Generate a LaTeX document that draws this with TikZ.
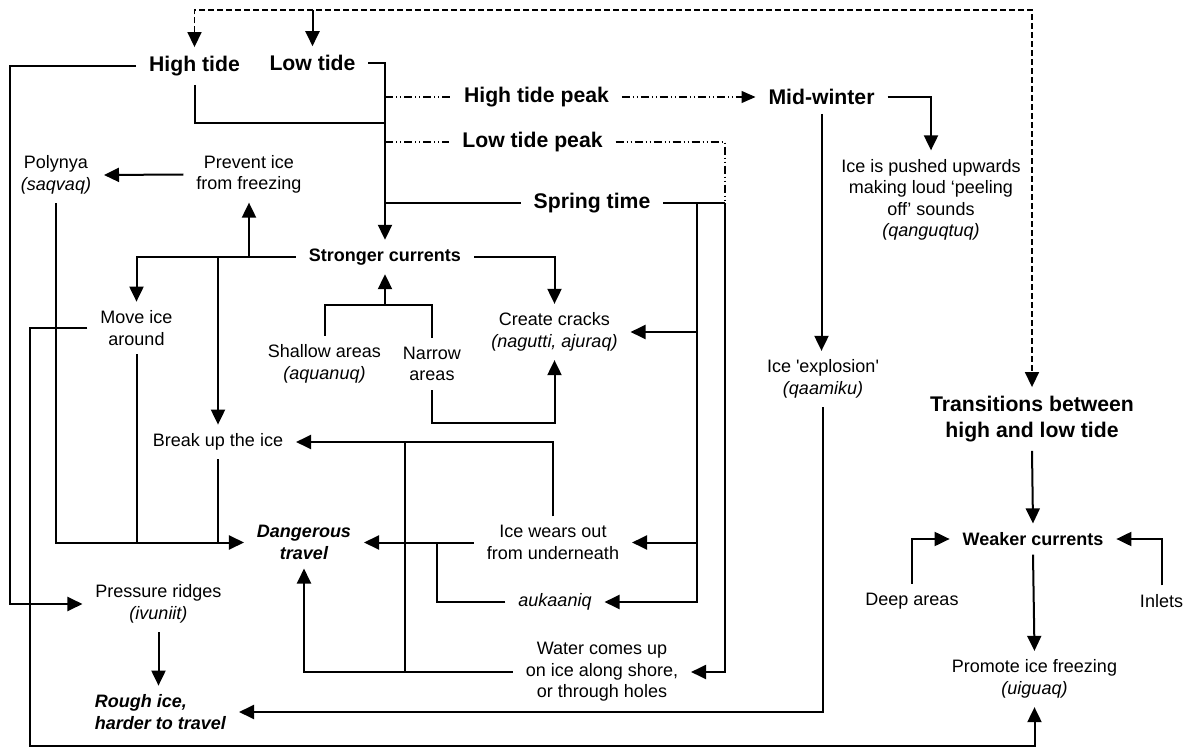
\documentclass[tikz,border=0pt]{standalone}
\usepackage{fontspec}
\setmainfont{Liberation Sans}
\usetikzlibrary{arrows.meta,calc}

\tikzset{
  every node/.style={inner sep=0pt, outer xsep=6.5pt, outer ysep=4.5pt, align=center},
  txt/.style={font=\fontsize{9}{10.75}\selectfont},
  boldtxt/.style={font=\fontsize{9}{10.75}\selectfont\bfseries},
  boldit/.style={font=\fontsize{9}{10.75}\selectfont\bfseries\itshape},
  bigtxt/.style={font=\fontsize{10.6}{13}\selectfont\bfseries},
  wire/.style={line width=1pt},
  link/.style={wire, -{Triangle[length=7.5pt,width=7pt]}},
  tidedash/.style={line width=0.6pt, dash pattern=on 4pt off 1.5pt on 0.5pt off 1.5pt on 0.5pt off 1.5pt},
  transdash/.style={line width=0.8pt, dash pattern=on 3pt off 1.5pt},
}

\begin{document}
\begin{tikzpicture}[x=0.5pt,y=-0.5pt]
    \useasboundingbox (0,0) rectangle (1190,749);

    \node[bigtxt] (hitide) at (194.5,66) {High tide};
    \node[bigtxt] (lotide) at (312.5,63) {Low tide};
    \node[bigtxt] (hipeak) at (536.5,97) {High tide peak};
    \node[bigtxt] (lopeak) at (532.5,142) {Low tide peak};
    \node[bigtxt] (midwin) at (821.5,97) {Mid-winter};
    \node[bigtxt] (spring) at (592,203) {Spring time};

    \node[txt] (polynya) at (56,175) {Polynya\\\textit{(saqvaq)}};
    \node[txt] (prevent) at (249,174.5) {Prevent ice\\from freezing};
    \node[boldtxt] (strong) at (385,257) {Stronger currents};
    \node[txt] (move) at (136.5,328) {Move ice\\around};
    \node[txt] (shallow) at (324.5,364) {Shallow areas\\\textit{(aquanuq)}};
    \node[txt] (narrow) at (432,364) {Narrow\\areas};
    \node[txt] (cracks) at (554.5,332) {Create cracks\\\textit{(nagutti, ajuraq)}};
    \node[txt] (breakup) at (218,442) {Break up the ice};
    \node[boldit] (danger) at (304,542.5) {Dangerous\\travel};
    \node[txt] (wears) at (553,542.5) {Ice wears out\\from underneath};
    \node[txt] (aukaaniq) at (555,602) {\textit{aukaaniq}};
    \node[txt] (water) at (602,672) {Water comes up\\on ice along shore,\\or through holes};
    \node[txt] (ridges) at (158.5,604) {Pressure ridges\\\textit{(ivuniit)}};
    \node[boldit, align=left] (rough) at (160.5,712) {Rough ice,\\harder to travel};

    \node[txt] (pushed) at (931,200) {Ice is pushed upwards\\making loud ‘peeling\\off’ sounds\\\textit{(qanguqtuq)}};
    \node[txt] (explosion) at (823,379) {Ice \textquotesingle explosion\textquotesingle\\\textit{(qaamiku)}};
    \node[bigtxt] (trans) at (1032,419) {Transitions between\\high and low tide};
    \node[boldtxt] (weaker) at (1033,539) {Weaker currents};
    \node[txt] (deep) at (912,601) {Deep areas};
    \node[txt] (inlets) at (1161.5,601) {Inlets};
    \node[txt] (promote) at (1034.5,679) {Promote ice freezing\\\textit{(uiguaq)}};

    \coordinate (tideTop) at (0,10);
    \coordinate (leftRail) at (10,0);
    \coordinate (hiJoin) at (385,123);
    \coordinate (springIn) at (697,203);
    \coordinate (springOut) at (725,203);
    \coordinate (areaJoin) at (385,305);
    \coordinate (narrowLow) at (0,423);
    \coordinate (aukJoin) at (437,0);
    \coordinate (waterUp) at (405,0);
    \coordinate (bottomRail) at (30,745.5);

    \draw[transdash, {Triangle[length=7.5pt,width=7pt]}-{Triangle[length=7.5pt,width=7pt]}]
      (hitide.north) |- (trans.north |- tideTop) -- (trans.north);
    \draw[link] (lotide.north |- tideTop) -- (lotide.north);

    \draw[link] (hitide.west) -| (leftRail |- ridges.west) -- (ridges.west);
    \draw[wire] (hitide.south) |- (hiJoin);
    \draw[link] (lotide.east) -| (strong.north);

    \draw[tidedash] (hipeak.west -| hiJoin) -- (hipeak.west);
    \draw[tidedash, -{Triangle[length=7pt,width=6pt]}] (hipeak.east) -- (midwin.west);
    \draw[tidedash] (lopeak.west -| hiJoin) -- (lopeak.west);
    \draw[tidedash] (lopeak.east) -| (springOut);

    \draw[wire] (spring.west) -- (spring.west -| hiJoin);
    \draw[wire] (spring.east) -- (springOut);
    \draw[link] (springOut) |- (water.east);
    \draw[link] (springIn) |- (aukaaniq.east);
    \draw[link] (springIn |- cracks.east) -- (cracks.east);
    \draw[link] (springIn |- wears.east) -- (wears.east);

    \draw[link] (strong.west) -| (move.north);
    \draw[link] (strong.west -| prevent.south) -- (prevent.south);
    \draw[link] (strong.west -| breakup.north) -- (breakup.north);
    \draw[link] (strong.east) -| (cracks.north);
    \draw[wire] (shallow.north) |- (narrow.north |- areaJoin) -- (narrow.north);
    \draw[link] (areaJoin) -- (strong.south);
    \draw[link] (narrow.south) |- (cracks.south |- narrowLow) -- (cracks.south);

    \draw[link] (prevent.west) -- (polynya.east);
    \draw[link] (polynya.south) |- (danger.west);
    \draw[wire] (move.south) -- (move.south |- danger.west);
    \draw[wire] (breakup.south) -- (breakup.south |- danger.west);

    \draw[link] (wears.west) -- (danger.east);
    \draw[wire] (aukaaniq.west) -| (aukJoin |- wears.west);
    \draw[link] (wears.north) |- (breakup.east);
    \draw[link] (water.west) -| (danger.south);
    \draw[wire] (water.west -| waterUp) -- (waterUp |- breakup.east);
    \draw[link] (ridges.south) -- (rough.north -| ridges.south);

    \draw[link] (midwin.east) -| (pushed.north);
    \draw[link] (midwin.south) -- (midwin.south |- explosion.north);
    \draw[link] (explosion.south) |- (rough.east);

    \draw[link] (trans.south) -- (weaker.north);
    \draw[link] (deep.north) |- (weaker.west);
    \draw[link] (inlets.north) |- (weaker.east);
    \draw[link] (weaker.south) -- (promote.north);
    \draw[link] (move.west) -| (bottomRail) -| (promote.south);
\end{tikzpicture}
\end{document}
